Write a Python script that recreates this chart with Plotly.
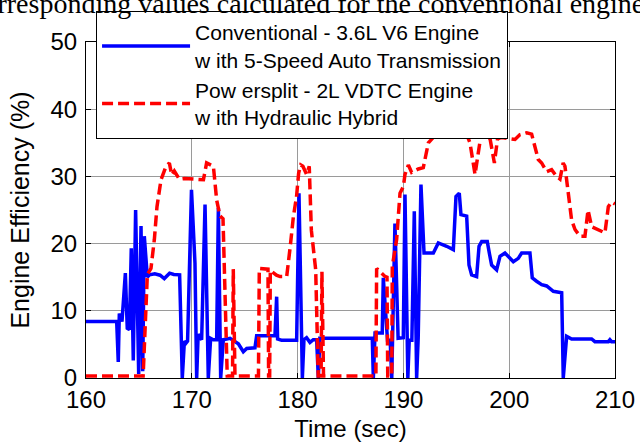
import plotly.graph_objects as go

# ---------------- data ----------------
# Conventional - 3.6L V6 engine (blue solid)
t_conv = [160.0, 162.9, 163.05, 163.15, 163.4, 163.72, 163.9, 164.1, 164.28, 164.47,
          164.69, 164.98, 165.2, 165.36, 165.51, 165.67, 165.8, 166.0, 166.5, 167.0,
          167.4, 167.9, 168.3, 168.85, 169.1, 169.3, 169.45, 169.6, 169.97, 170.3,
          170.46, 170.6, 170.93, 171.25, 171.56, 171.78, 172.03, 172.35, 172.51, 172.73,
          172.98, 173.61, 174.4, 174.87, 175.19, 175.97, 176.13, 177.86, 178.02, 178.11,
          178.49, 179.91, 180.13, 180.45, 180.6, 180.85, 181.17, 181.48, 181.8, 181.96,
          182.1, 187.06, 187.16, 187.32, 188.0, 188.1, 188.3, 188.5, 188.75, 188.9,
          189.2, 189.5, 189.99, 190.15, 190.42, 190.55, 190.8, 191.03, 191.25, 191.4,
          191.66, 191.95, 192.83, 193.3, 194.09, 194.72, 194.97, 195.28, 195.44, 195.98,
          196.2, 196.45, 196.92, 197.15, 197.4, 197.93, 198.12, 198.34, 198.81, 199.13,
          199.6, 200.39, 200.86, 201.18, 201.96, 202.18, 202.59, 203.07, 203.54, 204.17,
          204.96, 205.11, 205.43, 205.9, 207.79, 208.1, 209.37, 209.52, 209.68, 210.0]
eff_conv = [8.4, 8.4, 2.4, 9.6, 8.4, 15.6, 7.4, 7.2, 19.3, 2.6,
            25.0, 0.6, 22.6, 1.0, 21.1, 18.0, 15.0, 15.35, 15.5, 15.3,
            14.8, 15.6, 15.4, 15.35, 0.0, 5.5, 5.2, 5.5, 28.0, 17.1,
            0.0, 6.5, 5.7, 25.8, 0.0, 5.9, 5.7, 5.7, 25.3, 0.0,
            5.7, 5.9, 5.1, 3.9, 4.4, 4.5, 6.3, 6.3, 12.1, 5.8,
            5.6, 5.6, 27.5, 0.0, 5.7, 6.0, 5.3, 5.7, 5.7, 0.0,
            5.9, 5.9, 0.0, 6.7, 6.7, 14.9, 10.0, 5.6, 5.6, 0.0,
            23.0, 5.9, 6.0, 27.3, 0.0, 5.6, 5.6, 24.8, 0.0, 6.0,
            28.8, 18.6, 18.6, 20.1, 19.6, 19.1, 27.0, 27.5, 24.3, 24.1,
            16.8, 15.35, 15.1, 19.6, 20.3, 20.3, 18.6, 16.8, 16.1, 18.1,
            18.6, 17.3, 17.8, 18.6, 18.6, 14.9, 14.4, 13.9, 13.7, 12.9,
            12.7, 0.0, 6.2, 5.8, 5.8, 5.4, 5.4, 5.7, 5.4, 5.4]

# Powersplit - 2L VDTC engine with hydraulic hybrid (red dashed)
t_ps = [160.0, 165.4, 165.8, 166.14, 166.46, 166.71, 167.09, 167.56, 167.88, 168.1,
        168.35, 168.82, 169.3, 170.4, 171.1, 171.4, 172.04, 172.35, 172.67, 172.95,
        173.35, 173.85, 173.92, 174.08, 176.3, 176.38, 177.2, 177.26, 177.36, 177.42,
        178.0, 178.34, 178.97, 179.3, 179.6, 179.9, 180.1, 180.3, 180.5, 180.85,
        181.1, 181.3, 181.48, 181.71, 181.95, 182.22, 182.3, 182.45, 187.4, 187.47,
        188.26, 188.45, 188.52, 188.9, 188.95, 189.36, 189.68, 190.0, 190.15, 190.47,
        190.78, 191.41, 191.88, 192.36, 192.83, 193.3, 194.0, 195.0, 195.8, 196.29,
        196.77, 197.05, 197.3, 197.8, 198.2, 198.6, 198.9, 199.3, 200.0, 200.55,
        201.0, 201.65, 202.12, 202.44, 202.75, 203.07, 203.54, 204.01, 204.48, 204.8,
        205.1, 205.27, 205.43, 205.74, 205.9, 206.22, 206.69, 207.16, 207.45, 207.8,
        208.42, 209.05, 209.37, 209.68, 210.0]
eff_ps = [0.3, 0.3, 15.4, 16.3, 20.6, 25.5, 29.5, 31.5, 32.0, 30.2,
          30.8, 29.6, 29.7, 29.5, 29.5, 32.0, 31.5, 26.5, 24.1, 23.7,
          0.3, 0.3, 16.2, 0.3, 0.3, 16.3, 16.2, 0.3, 0.3, 16.0,
          15.3, 15.1, 15.1, 19.5, 24.0, 27.0, 30.5, 31.7, 31.5, 30.3,
          31.5, 22.0, 19.1, 16.1, 0.3, 0.3, 15.8, 0.3, 0.3, 16.3,
          15.1, 15.0, 0.3, 0.3, 16.6, 20.6, 27.5, 28.5, 30.3, 31.7,
          30.6, 31.1, 31.3, 35.0, 35.8, 36.6, 37.5, 37.8, 37.0, 35.0,
          30.3, 33.4, 35.8, 36.6, 35.5, 32.0, 35.6, 35.8, 35.7, 35.5,
          36.2, 36.5, 36.3, 34.5, 32.5, 32.0, 30.7, 31.0, 30.0, 29.6,
          32.0, 31.5, 29.4, 25.0, 23.5, 22.1, 21.1, 21.1, 25.0, 22.5,
          22.1, 21.6, 25.5, 26.2, 25.9]

assert len(t_conv) == len(eff_conv)
assert len(t_ps) == len(eff_ps)

x_ticks = [160, 170, 180, 190, 200, 210]
y_ticks = [0, 10, 20, 30, 40, 50]

name_conv = "Conventional - 3.6L V6 Engine<br>w ith 5-Speed Auto Transmission"
name_ps = "Pow ersplit - 2L VDTC Engine<br>w ith Hydraulic Hybrid"
caption = "corresponding values calculated for the conventional engine"

FONT = "Liberation Sans, Arial, sans-serif"

# ---------------- figure ----------------
fig = go.Figure()
fig.add_trace(go.Scatter(x=t_conv, y=eff_conv, mode="lines", name=name_conv,
                         line=dict(color="#0000FF", width=3.5)))
fig.add_trace(go.Scatter(x=t_ps, y=eff_ps, mode="lines", name=name_ps,
                         line=dict(color="#FF0000", width=3.5, dash="11px,5px")))

axis_common = dict(
    showline=True, linecolor="black", linewidth=1, mirror="ticks",
    ticks="inside", ticklen=5, tickcolor="black", tickwidth=1,
    showgrid=True, gridcolor="#9a9a9a", gridwidth=1,
    zeroline=False, tickfont=dict(family=FONT, size=24, color="black"),
)

fig.update_xaxes(range=[160, 210], tickvals=x_ticks, ticktext=[str(v) for v in x_ticks],
                 title=dict(text="Time (sec)", font=dict(family=FONT, size=24, color="black"),
                            standoff=9),
                 **axis_common)
fig.update_yaxes(range=[0, 50], tickvals=y_ticks, ticktext=[str(v) for v in y_ticks],
                 ticklabelstandoff=3,
                 title=dict(text="Engine Efficiency (%)", font=dict(family=FONT, size=25, color="black"),
                            standoff=13),
                 **axis_common)

fig.add_annotation(text=caption, xref="paper", yref="paper",
                   x=-0.222, y=1.0625, xanchor="left", yanchor="bottom",
                   showarrow=False,
                   font=dict(family="Liberation Serif, Times New Roman, serif", size=28, color="black"))

fig.update_layout(
    width=640, height=442,
    margin=dict(l=86, r=25, t=42, b=64, autoexpand=False),
    paper_bgcolor="white", plot_bgcolor="white",
    font=dict(family=FONT, color="black"),
    showlegend=True,
    legend=dict(x=0.019, y=1.092, xanchor="left", yanchor="top",
                bgcolor="white", bordercolor="black", borderwidth=1,
                font=dict(family=FONT, size=21, color="black"),
                itemwidth=88, tracegroupgap=8),
)

fig.write_html("out.html")
